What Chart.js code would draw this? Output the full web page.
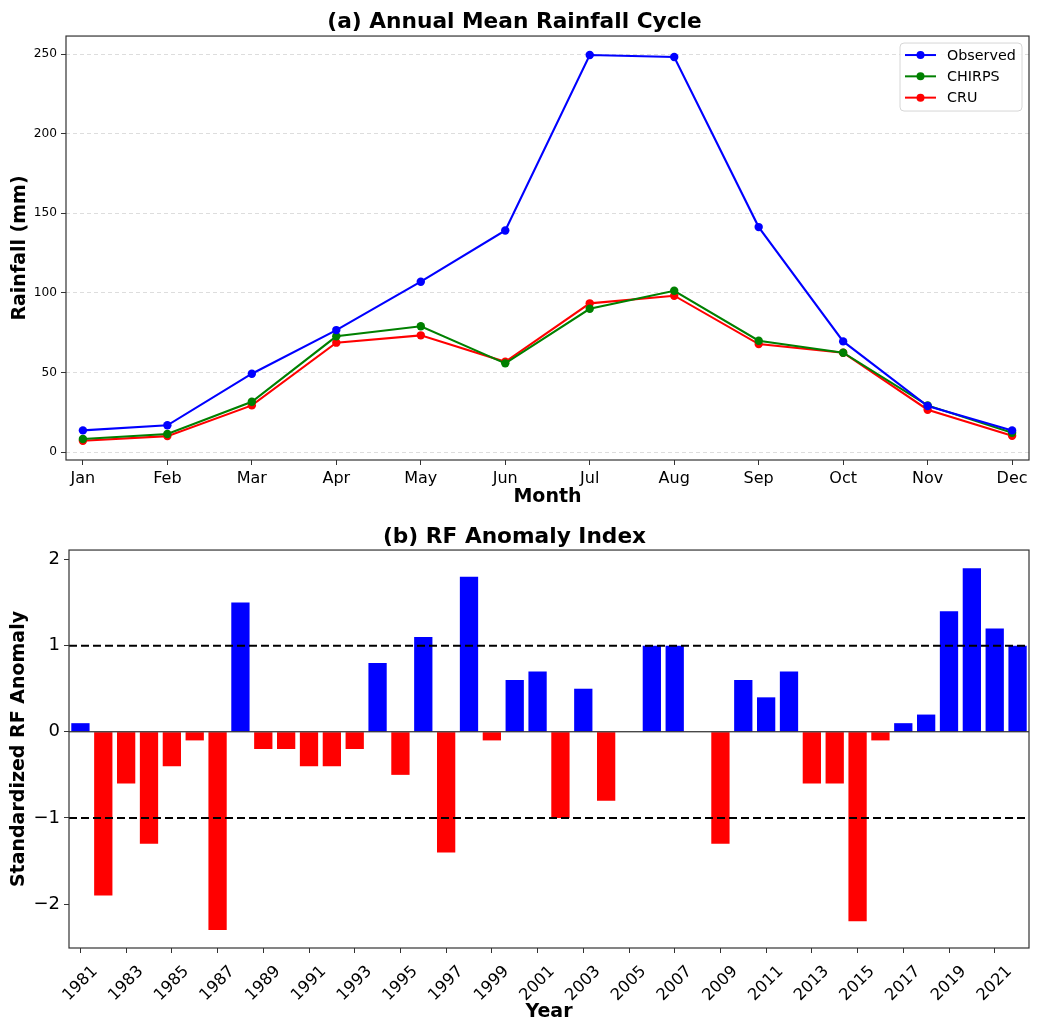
<!DOCTYPE html>
<html>
<head>
<meta charset="utf-8">
<title>Rainfall cycle and anomaly index</title>
<script src="https://cdn.jsdelivr.net/npm/chart.js@4.4.0/dist/chart.umd.min.js"></script>
<style>
  html, body { margin: 0; padding: 0; background: #fff; }
  #wrap { position: relative; width: 1038px; height: 1023px; }
  .box { position: absolute; left: 0; width: 1038px; }
  #top { top: 0; height: 512px; }
  #bottom { top: 512px; height: 511px; }
</style>
</head>
<body>
<div id="wrap">
  <div class="box" id="top"><canvas id="cycleChart"></canvas></div>
  <div class="box" id="bottom"><canvas id="anomalyChart"></canvas></div>
</div>
<script>
// (a) monthly means, mm
const months = ["Jan", "Feb", "Mar", "Apr", "May", "Jun", "Jul", "Aug", "Sep", "Oct", "Nov", "Dec"];
const observed = [13.6, 16.8, 49.2, 76.6, 107.0, 139.2, 249.4, 248.1, 141.3, 69.5, 28.9, 13.6];
const chirps = [8.2, 11.3, 31.6, 72.7, 79.0, 55.7, 90.0, 101.3, 69.9, 62.4, 29.3, 12.1];
const cru = [7.1, 10.0, 29.3, 68.7, 73.3, 56.7, 93.4, 98.2, 67.8, 62.4, 26.6, 10.2];
const rainTicks = [0, 50, 100, 150, 200, 250];

// (b) standardized anomaly per year
const years = [1981, 1982, 1983, 1984, 1985, 1986, 1987, 1988, 1989, 1990,
  1991, 1992, 1993, 1994, 1995, 1996, 1997, 1998, 1999, 2000,
  2001, 2002, 2003, 2004, 2005, 2006, 2007, 2008, 2009, 2010,
  2011, 2012, 2013, 2014, 2015, 2016, 2017, 2018, 2019, 2020,
  2021, 2022];
const anomaly = [0.1, -1.9, -0.6, -1.3, -0.4, -0.1, -2.3, 1.5, -0.2, -0.2,
  -0.4, -0.4, -0.2, 0.8, -0.5, 1.1, -1.4, 1.8, -0.1, 0.6,
  0.7, -1.0, 0.5, -0.8, 0.0, 1.0, 1.0, 0.0, -1.3, 0.6,
  0.4, 0.7, -0.6, -0.6, -2.2, -0.1, 0.1, 0.2, 1.4, 1.9,
  1.2, 1.0];
const yearTicks = [1981, 1983, 1985, 1987, 1989, 1991, 1993, 1995, 1997, 1999, 2001,
  2003, 2005, 2007, 2009, 2011, 2013, 2015, 2017, 2019, 2021];
const anomalyTicks = [-2, -1, 0, 1, 2];
const thresholds = [1, -1];

Chart.defaults.font.family = "'DejaVu Sans', sans-serif";
Chart.defaults.color = "#000";

const FONT = "'DejaVu Sans', sans-serif";
const spineColor = "#333";

// box around the plot area, like matplotlib spines
const framePlugin = {
  id: "frame",
  afterDraw(chart) {
    const { ctx, chartArea: a } = chart;
    ctx.save();
    ctx.strokeStyle = spineColor;
    ctx.lineWidth = 1.2;
    ctx.strokeRect(a.left, a.top, a.right - a.left, a.bottom - a.top);
    ctx.restore();
  }
};

// legend drawn inside the plot, upper right
const insideLegend = {
  id: "insideLegend",
  afterDraw(chart) {
    const { ctx, chartArea: a } = chart;
    const sets = chart.data.datasets;
    const w = 122, rowH = 21.3, h = 68;
    const x0 = a.right - 7 - w, y0 = a.top + 7;
    ctx.save();
    ctx.beginPath();
    ctx.roundRect(x0, y0, w, h, 4);
    ctx.fillStyle = "rgba(255,255,255,0.85)";
    ctx.fill();
    ctx.strokeStyle = "#d6d6d6";
    ctx.lineWidth = 1;
    ctx.stroke();
    ctx.font = "14.3px " + FONT;
    ctx.textBaseline = "middle";
    sets.forEach((ds, i) => {
      const y = y0 + 12 + i * rowH;
      ctx.strokeStyle = ds.borderColor;
      ctx.lineWidth = 2;
      ctx.beginPath();
      ctx.moveTo(x0 + 5, y);
      ctx.lineTo(x0 + 36, y);
      ctx.stroke();
      ctx.fillStyle = ds.borderColor;
      ctx.beginPath();
      ctx.arc(x0 + 20.5, y, 4, 0, Math.PI * 2);
      ctx.fill();
      ctx.fillStyle = "#000";
      ctx.fillText(ds.label, x0 + 47, y + 1);
    });
    ctx.restore();
  }
};

// zero line and +/-1 dashed thresholds over the bars
const refLines = {
  id: "refLines",
  afterDatasetsDraw(chart) {
    const { ctx, chartArea: a, scales } = chart;
    const y = scales.y;
    ctx.save();
    ctx.strokeStyle = "#000";
    ctx.lineWidth = 1;
    ctx.beginPath();
    ctx.moveTo(a.left, y.getPixelForValue(0));
    ctx.lineTo(a.right, y.getPixelForValue(0));
    ctx.stroke();
    ctx.lineWidth = 2;
    ctx.setLineDash([8, 4]);
    thresholds.forEach(t => {
      const py = y.getPixelForValue(t);
      ctx.beginPath();
      ctx.moveTo(a.left, py);
      ctx.lineTo(a.right, py);
      ctx.stroke();
    });
    ctx.restore();
  }
};

function lineSet(label, values, color) {
  return {
    label,
    data: values.map((v, i) => ({ x: i, y: v })),
    borderColor: color,
    backgroundColor: color,
    borderWidth: 2.1,
    pointRadius: 4.2,
    pointHoverRadius: 4.2,
    pointBorderWidth: 0,
    tension: 0
  };
}

new Chart(document.getElementById("cycleChart"), {
  type: "line",
  data: {
    datasets: [
      lineSet("Observed", observed, "#0000ff"),
      lineSet("CHIRPS", chirps, "#008000"),
      lineSet("CRU", cru, "#ff0000")
    ]
  },
  options: {
    responsive: true,
    maintainAspectRatio: false,
    animation: false,
    layout: { padding: { left: 0, right: 9, top: 0, bottom: 0 } },
    plugins: {
      legend: { display: false },
      tooltip: { enabled: false },
      title: {
        display: true,
        text: "(a) Annual Mean Rainfall Cycle",
        color: "#000",
        font: { size: 21.7, weight: "bold" },
        padding: { top: 9, bottom: 1 }
      }
    },
    scales: {
      x: {
        type: "linear",
        min: -0.2,
        max: 11.2,
        afterBuildTicks: s => { s.ticks = months.map((m, i) => ({ value: i })); },
        afterFit: s => { s.height = 52; },
        ticks: { callback: v => months[v], font: { size: 16 }, padding: 4, maxRotation: 0, autoSkip: false },
        grid: { drawOnChartArea: false, tickLength: 5, color: spineColor },
        border: { display: false },
        title: { display: true, text: "Month", font: { size: 19, weight: "bold" }, padding: { top: 0, bottom: 3.6 } }
      },
      y: {
        min: -5,
        max: 261.3,
        afterBuildTicks: s => { s.ticks = rainTicks.map(v => ({ value: v })); },
        afterFit: s => { s.width = 66; },
        ticks: { font: { size: 12.2 }, padding: 4 },
        grid: { color: "#d4d4d4", lineWidth: 0.8, tickColor: spineColor, tickLength: 5, tickWidth: 1 },
        border: { display: false, dash: [4, 3] },
        title: { display: true, text: "Rainfall (mm)", font: { size: 19, weight: "bold" }, padding: { top: 8.6, bottom: 0 } }
      }
    }
  },
  plugins: [framePlugin, insideLegend]
});

new Chart(document.getElementById("anomalyChart"), {
  type: "bar",
  data: {
    datasets: [{
      label: "RF Anomaly",
      data: anomaly.map((v, i) => ({ x: years[i], y: v })),
      backgroundColor: anomaly.map(v => (v >= 0 ? "#0000ff" : "#ff0000")),
      borderWidth: 0,
      barPercentage: 0.8,
      categoryPercentage: 1
    }]
  },
  options: {
    responsive: true,
    maintainAspectRatio: false,
    animation: false,
    layout: { padding: { left: 0, right: 9, top: 0, bottom: 0 } },
    plugins: {
      legend: { display: false },
      tooltip: { enabled: false },
      title: {
        display: true,
        text: "(b) RF Anomaly Index",
        color: "#000",
        font: { size: 21.7, weight: "bold" },
        padding: { top: 12, bottom: 0 }
      }
    },
    scales: {
      x: {
        type: "linear",
        offset: false,
        min: 1980.5,
        max: 2022.5,
        afterBuildTicks: s => { s.ticks = yearTicks.map(v => ({ value: v })); },
        afterFit: s => { s.height = 75; },
        ticks: {
          callback: v => String(v),
          font: { size: 16.3 },
          padding: 9,
          labelOffset: 14.6,
          minRotation: 45,
          maxRotation: 45,
          autoSkip: false
        },
        grid: { offset: false, drawOnChartArea: false, tickLength: 5, color: spineColor },
        border: { display: false },
        title: { display: true, text: "Year", font: { size: 19, weight: "bold" }, padding: { top: 0, bottom: 0 } }
      },
      y: {
        min: -2.51,
        max: 2.11,
        afterBuildTicks: s => { s.ticks = anomalyTicks.map(v => ({ value: v })); },
        afterFit: s => { s.width = 69; },
        ticks: { callback: v => (v < 0 ? "\u2212" + Math.abs(v) : String(v)), font: { size: 18 }, padding: 4 },
        grid: { drawOnChartArea: false, tickLength: 5, color: spineColor },
        border: { display: false },
        title: { display: true, text: "Standardized RF Anomaly", font: { size: 19, weight: "bold" }, padding: { top: 7.6, bottom: 0 } }
      }
    }
  },
  plugins: [refLines, framePlugin]
});
</script>
</body>
</html>
